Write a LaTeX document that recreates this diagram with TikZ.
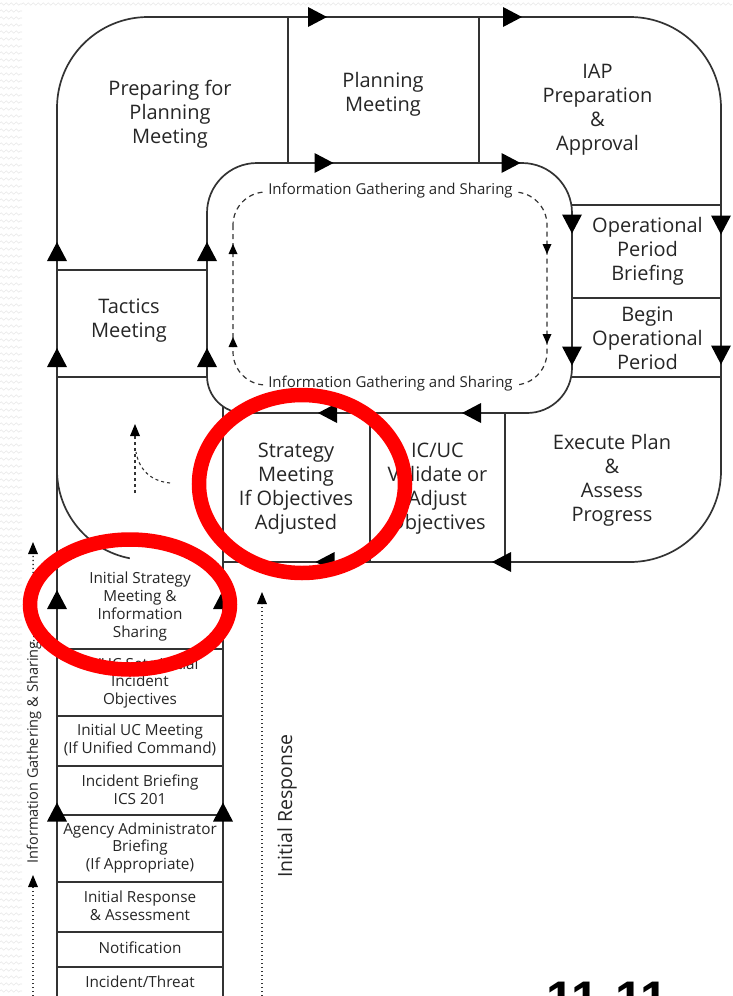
\documentclass[tikz,border=0pt]{standalone}
\usepackage{fontspec}
\setmainfont{Open Sans}
\newfontfamily\pagenumfont{Liberation Sans}
\usetikzlibrary{decorations.pathmorphing}

% filled arrowheads sitting on a line, given by their centre
\newcommand\headright[2]{\fill[headfill] (#1,#2) ++(9.5pt,0) -- ++(-19pt,10pt) -- ++(0,-20pt) -- cycle;}
\newcommand\headleft[2]{\fill[headfill] (#1,#2) ++(-9.5pt,0) -- ++(19pt,10pt) -- ++(0,-20pt) -- cycle;}
\newcommand\headup[2]{\fill[headfill] (#1,#2) ++(0,9.5pt) -- ++(10pt,-19pt) -- ++(-20pt,0) -- cycle;}
\newcommand\headdown[2]{\fill[headfill] (#1,#2) ++(0,-9.5pt) -- ++(10pt,19pt) -- ++(-20pt,0) -- cycle;}
% small heads for the dashed and dotted loops
\newcommand\tinyup[2]{\fill[headfill] (#1,#2) ++(0,6pt) -- ++(5pt,-12pt) -- ++(-10pt,0) -- cycle;}
\newcommand\tinydown[2]{\fill[headfill] (#1,#2) ++(0,-5pt) -- ++(4.5pt,10pt) -- ++(-9pt,0) -- cycle;}
\newcommand\tinyupb[2]{\fill[headfill] (#1,#2) ++(0,5pt) -- ++(4.5pt,-10pt) -- ++(-9pt,0) -- cycle;}

\tikzset{
  frame/.style={line width=1.7pt, draw=black!80},
  headfill/.style={fill=black},
  texture/.style={draw=black!9, line width=0.6pt,
    decorate, decoration={zigzag, segment length=5pt, amplitude=1.3pt}},
  biglabel/.style={align=center, inner sep=0pt, text=black!85,
    font=\fontsize{20}{24}\selectfont},
  stacklabel/.style={align=center, inner sep=0pt, text=black!85,
    font=\fontsize{15.3}{17.7}\selectfont},
  looplabel/.style={inner sep=3pt, fill=white, text=black!85,
    font=\fontsize{15}{17}\selectfont},
  dashedloop/.style={line width=1.2pt, draw=black!80, dash pattern=on 5pt off 4pt},
  dottedline/.style={line width=1.5pt, draw=black!80, dash pattern=on 1.3pt off 2.7pt},
  redmark/.style={draw=red, line width=14.5pt},
}

\begin{document}
\begin{tikzpicture}[x=1pt,y=-1pt]
\useasboundingbox (0,0) rectangle (732,996);
\clip (0,0) rectangle (732,996);
\fill[white] (0,0) rectangle (732,996);

% faint paper texture along the left and top edges
\foreach \yy in {4,11,...,996} \draw[texture] (0,\yy) -- (22,\yy);
\draw[texture] (22,4) -- (732,4);

% outer outline of the planning "P"
\draw[frame, rounded corners=91pt] (57,996) -- (57,17) -- (721,17) -- (721,562) -- (223,562);
% lower bend of the P
\draw[frame] (57,470) .. controls (57,513) and (87.5,550.1) .. (129.8,558.3);

% inner loop
\draw[frame] (207,213) .. controls (207,185.4) and (229.4,163) .. (257,163)
  -- (522,163) .. controls (549.6,163) and (572,185.4) .. (572,213)
  -- (572,368) .. controls (572,392.9) and (551.9,413) .. (527,413)
  -- (244,413) .. controls (223.6,413) and (207,396.4) .. (207,376) -- cycle;

% dividers between the stages
\draw[frame] (288,17) -- (288,163);
\draw[frame] (479,17) -- (479,163);
\draw[frame] (572,205) -- (721,205);
\draw[frame] (572,298) -- (721,298);
\draw[frame] (572,377) -- (721,377);
\draw[frame] (57,270) -- (207,270);
\draw[frame] (57,377) -- (207,377);
\draw[frame] (370,413) -- (370,562);
\draw[frame] (505,413) -- (505,562);
% the stem of the P
\draw[frame] (223,406.5) -- (223,996);
\foreach \yy in {649,716,766,815,882,932,967} \draw[frame] (57,\yy) -- (223,\yy);

% direction heads along the loop
\headright{317.5}{17} \headright{512.5}{17}
\headright{324}{163}  \headright{511}{163}
\headdown{572}{224} \headdown{572}{356}
\headdown{721}{225} \headdown{721}{355}
\headleft{327.5}{413} \headleft{471.5}{413}
\headleft{325}{562}   \headleft{501.5}{562}
\headup{57}{251.5}  \headup{207}{251.5}
\headup{57}{357.5}  \headup{207}{357.5}
\headup{57}{599.5}  \headup{223}{599.5}
\headup{57}{812}    \headup{223}{812}

% information loop inside the cycle
\draw[dashedloop, rounded corners=33pt] (233,192) rectangle (547,385);
\tinyupb{233}{249} \tinyupb{233}{342}
\tinydown{547}{249} \tinydown{547}{339}
\node[looplabel] (infotop) at (390.5,191) {Information Gathering and Sharing};
\node[looplabel] (infobot) at (390.5,384) {Information Gathering and Sharing};

% small dashed hand-off in the open part of the P
\draw[dashedloop, line width=1.1pt, dash pattern=on 3pt off 3pt] (135,493) -- (135,432);
\tinyup{135}{430}
\draw[dashedloop, line width=1.1pt, dash pattern=on 3pt off 3pt] (170,483) .. controls (150,481) and (139,469) .. (136,452);

% stage labels on the loop
\node[biglabel] (prep) at (170,114) {Preparing for\\Planning\\Meeting};
\node[biglabel] (planmtg) at (383,94) {Planning\\Meeting};
\node[biglabel] (iap) at (597.5,110) {IAP\\Preparation\\\&\\Approval};
\node[biglabel] (opbrief) at (647.5,251) {Operational\\Period\\Briefing};
\node[biglabel] (beginop) at (647.5,338) {Begin\\Operational\\Period};
\node[biglabel] (tactics) at (129,320.5) {Tactics\\Meeting};
\node[biglabel] (strategy) at (296,489) {Strategy\\Meeting\\If Objectives\\Adjusted};
\node[biglabel] (validate) at (437.5,489) {IC/UC\\Validate or\\Adjust\\Objectives};
\node[biglabel] (execute) at (612,480) {Execute Plan\\\&\\Assess\\Progress};

% stage labels on the stem
\node[stacklabel] (initstrat) at (140,606.5) {Initial Strategy\\Meeting \&\\Information\\Sharing};
\node[stacklabel] (setobj) at (140,683) {IC/UC Sets Initial\\Incident\\Objectives};
\node[stacklabel] (ucmtg) at (140,740) {Initial UC Meeting\\(If Unified Command)};
\node[stacklabel] (ics201) at (140,790) {Incident Briefing\\ICS 201};
\node[stacklabel] (agency) at (140,848) {Agency Administrator\\Briefing\\(If Appropriate)};
\node[stacklabel] (initresp) at (140,906) {Initial Response\\\& Assessment};
\node[stacklabel] (notify) at (140,948) {Notification};
\node[stacklabel] (threat) at (140,982) {Incident/Threat};

% dotted side arrows
\node[stacklabel, rotate=90, font=\fontsize{14.6}{17}\selectfont] (sideinfo) at (34,752.5) {Information Gathering \& Sharing};
\coordinate (sidebottom) at (33,996);
\draw[dottedline] (sidebottom) -- (33,886);
\tinyup{33}{881}
\draw[dottedline] (sideinfo.east) ++(0,-4pt) -- (33,554);
\tinyup{33}{548}
\node[biglabel, rotate=90, font=\fontsize{19.5}{21}\selectfont] (initresponse) at (287,806) {Initial Response};
\coordinate (respbottom) at (262,996);
\draw[dottedline] (respbottom) -- (262,604);
\tinyup{262}{598}

% red highlight rings
\draw[redmark] (302,484) ellipse [x radius=103pt, y radius=89pt];
\draw[redmark] (130,604.5) ellipse [x radius=100pt, y radius=65pt];

% page number, cut by the lower edge
\node[anchor=base west, inner sep=0pt, font=\pagenumfont\bfseries\fontsize{50}{50}\selectfont] (pagenum) at (546,1016) {11-11};
\end{tikzpicture}
\end{document}
